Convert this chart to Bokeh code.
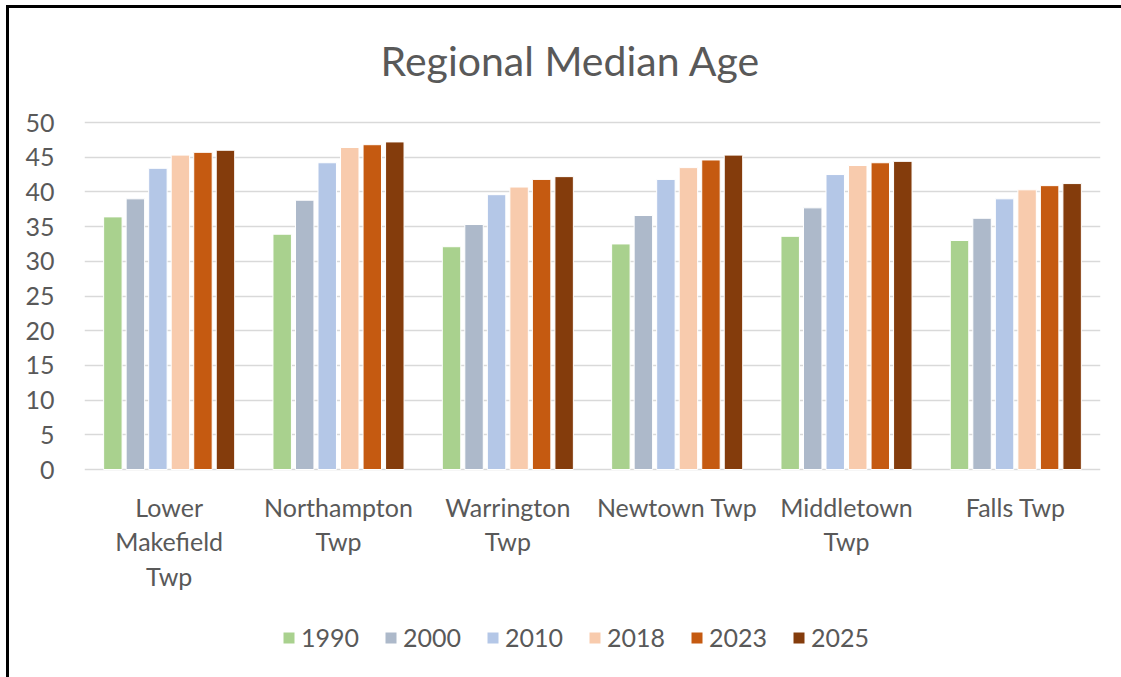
from bokeh.plotting import figure
from bokeh.models import (ColumnDataSource, Legend, LegendItem, FixedTicker,
                          Range1d, Label)
from bokeh.core.properties import value
from bokeh.embed import file_html
from bokeh.resources import INLINE

towns = ["Lower Makefield Twp", "Northampton Twp", "Warrington Twp",
         "Newtown Twp", "Middletown Twp", "Falls Twp"]
label_line1 = ["Lower", "Northampton", "Warrington", "Newtown Twp", "Middletown", "Falls Twp"]
label_line2 = ["Makefield", "Twp", "Twp", "", "Twp", ""]
label_line3 = ["Twp", "", "", "", "", ""]
years = ["1990", "2000", "2010", "2018", "2023", "2025"]
v1990 = [36.4, 33.9, 32.1, 32.5, 33.6, 33.0]
v2000 = [39.0, 38.8, 35.3, 36.6, 37.7, 36.2]
v2010 = [43.4, 44.2, 39.6, 41.8, 42.5, 39.0]
v2018 = [45.3, 46.4, 40.7, 43.5, 43.8, 40.3]
v2023 = [45.7, 46.8, 41.8, 44.6, 44.2, 40.9]
v2025 = [46.0, 47.2, 42.2, 45.3, 44.4, 41.2]
y_ticks = [0, 5, 10, 15, 20, 25, 30, 35, 40, 45, 50]

colors = ["#A9D18E", "#ADB9CA", "#B4C7E7", "#F8CBAD", "#C55A11", "#843C0C"]
series = [v1990, v2000, v2010, v2018, v2023, v2025]

FONT = "Lato"
TXT = "#595959"
FS = "25px"

# layout (pixels): value axis 0..50 spans 347 px; extra room above for the title
# and below for the category labels and legend
PX = 347 / 50
ROOM_TOP, ROOM_BOTTOM = 114, 208
y_lo, y_hi = -ROOM_BOTTOM / PX, 50 + ROOM_TOP / PX

centres = [i + 0.5 for i in range(len(towns))]
pitch = 0.133

p = figure(x_range=Range1d(0, len(towns)), y_range=Range1d(y_lo, y_hi),
           frame_width=1016, frame_height=347 + ROOM_TOP + ROOM_BOTTOM,
           min_border_left=75, min_border_right=21, min_border_top=0, min_border_bottom=0,
           output_backend="svg", toolbar_location=None, x_axis_location=None,
           styles={"border-top": "3px solid black", "border-left": "3px solid black",
                   "margin-left": "6px", "margin-top": "5px"})
p.outline_line_color = None
p.background_fill_color = "white"
p.border_fill_color = "white"

items = []
for i, (y, c, s) in enumerate(zip(years, colors, series)):
    src = ColumnDataSource(dict(x=[cx + (i - 2.5) * pitch for cx in centres], top=s, town=towns))
    r = p.vbar(x="x", top="top", width=0.109, source=src,
               fill_color=c, line_color="white", line_width=1)
    items.append(LegendItem(label=y, renderers=[r]))

p.xgrid.grid_line_color = None
p.ygrid.grid_line_color = "#D9D9D9"
p.ygrid.grid_line_width = 1.5
p.yaxis.ticker = FixedTicker(ticks=y_ticks)
p.yaxis.axis_line_color = None
p.yaxis.major_tick_line_color = None
p.yaxis.minor_tick_line_color = None
p.yaxis.major_label_standoff = 24
p.yaxis.major_label_text_font = FONT
p.yaxis.major_label_text_font_size = FS
p.yaxis.major_label_text_color = TXT

# category labels (wrapped onto up to three lines), below the zero line
for lines, off in ((label_line1, 37), (label_line2, 71), (label_line3, 106)):
    lsrc = ColumnDataSource(dict(x=centres, y=[-off / PX] * len(centres), t=lines))
    p.text(x="x", y="y", text="t", source=lsrc, text_align="center",
           text_baseline="middle", text_font=value(FONT), text_font_size=FS,
           text_color=TXT)

title = Label(x=len(towns) / 2, x_offset=-22, y=50 + 62 / PX, text="Regional Median Age",
              text_align="center", text_baseline="middle", text_font=FONT,
              text_font_size="41px", text_color=TXT)
p.add_layout(title)

legend = Legend(items=items, orientation="horizontal", location=(197, 25),
                glyph_width=15, glyph_height=15, label_standoff=5, spacing=24,
                label_text_font=FONT, label_text_font_size=FS, label_text_color=TXT,
                border_line_color=None, background_fill_alpha=0, padding=0, margin=0)
p.add_layout(legend, "center")

open("out.html", "w").write(file_html(p, INLINE))
